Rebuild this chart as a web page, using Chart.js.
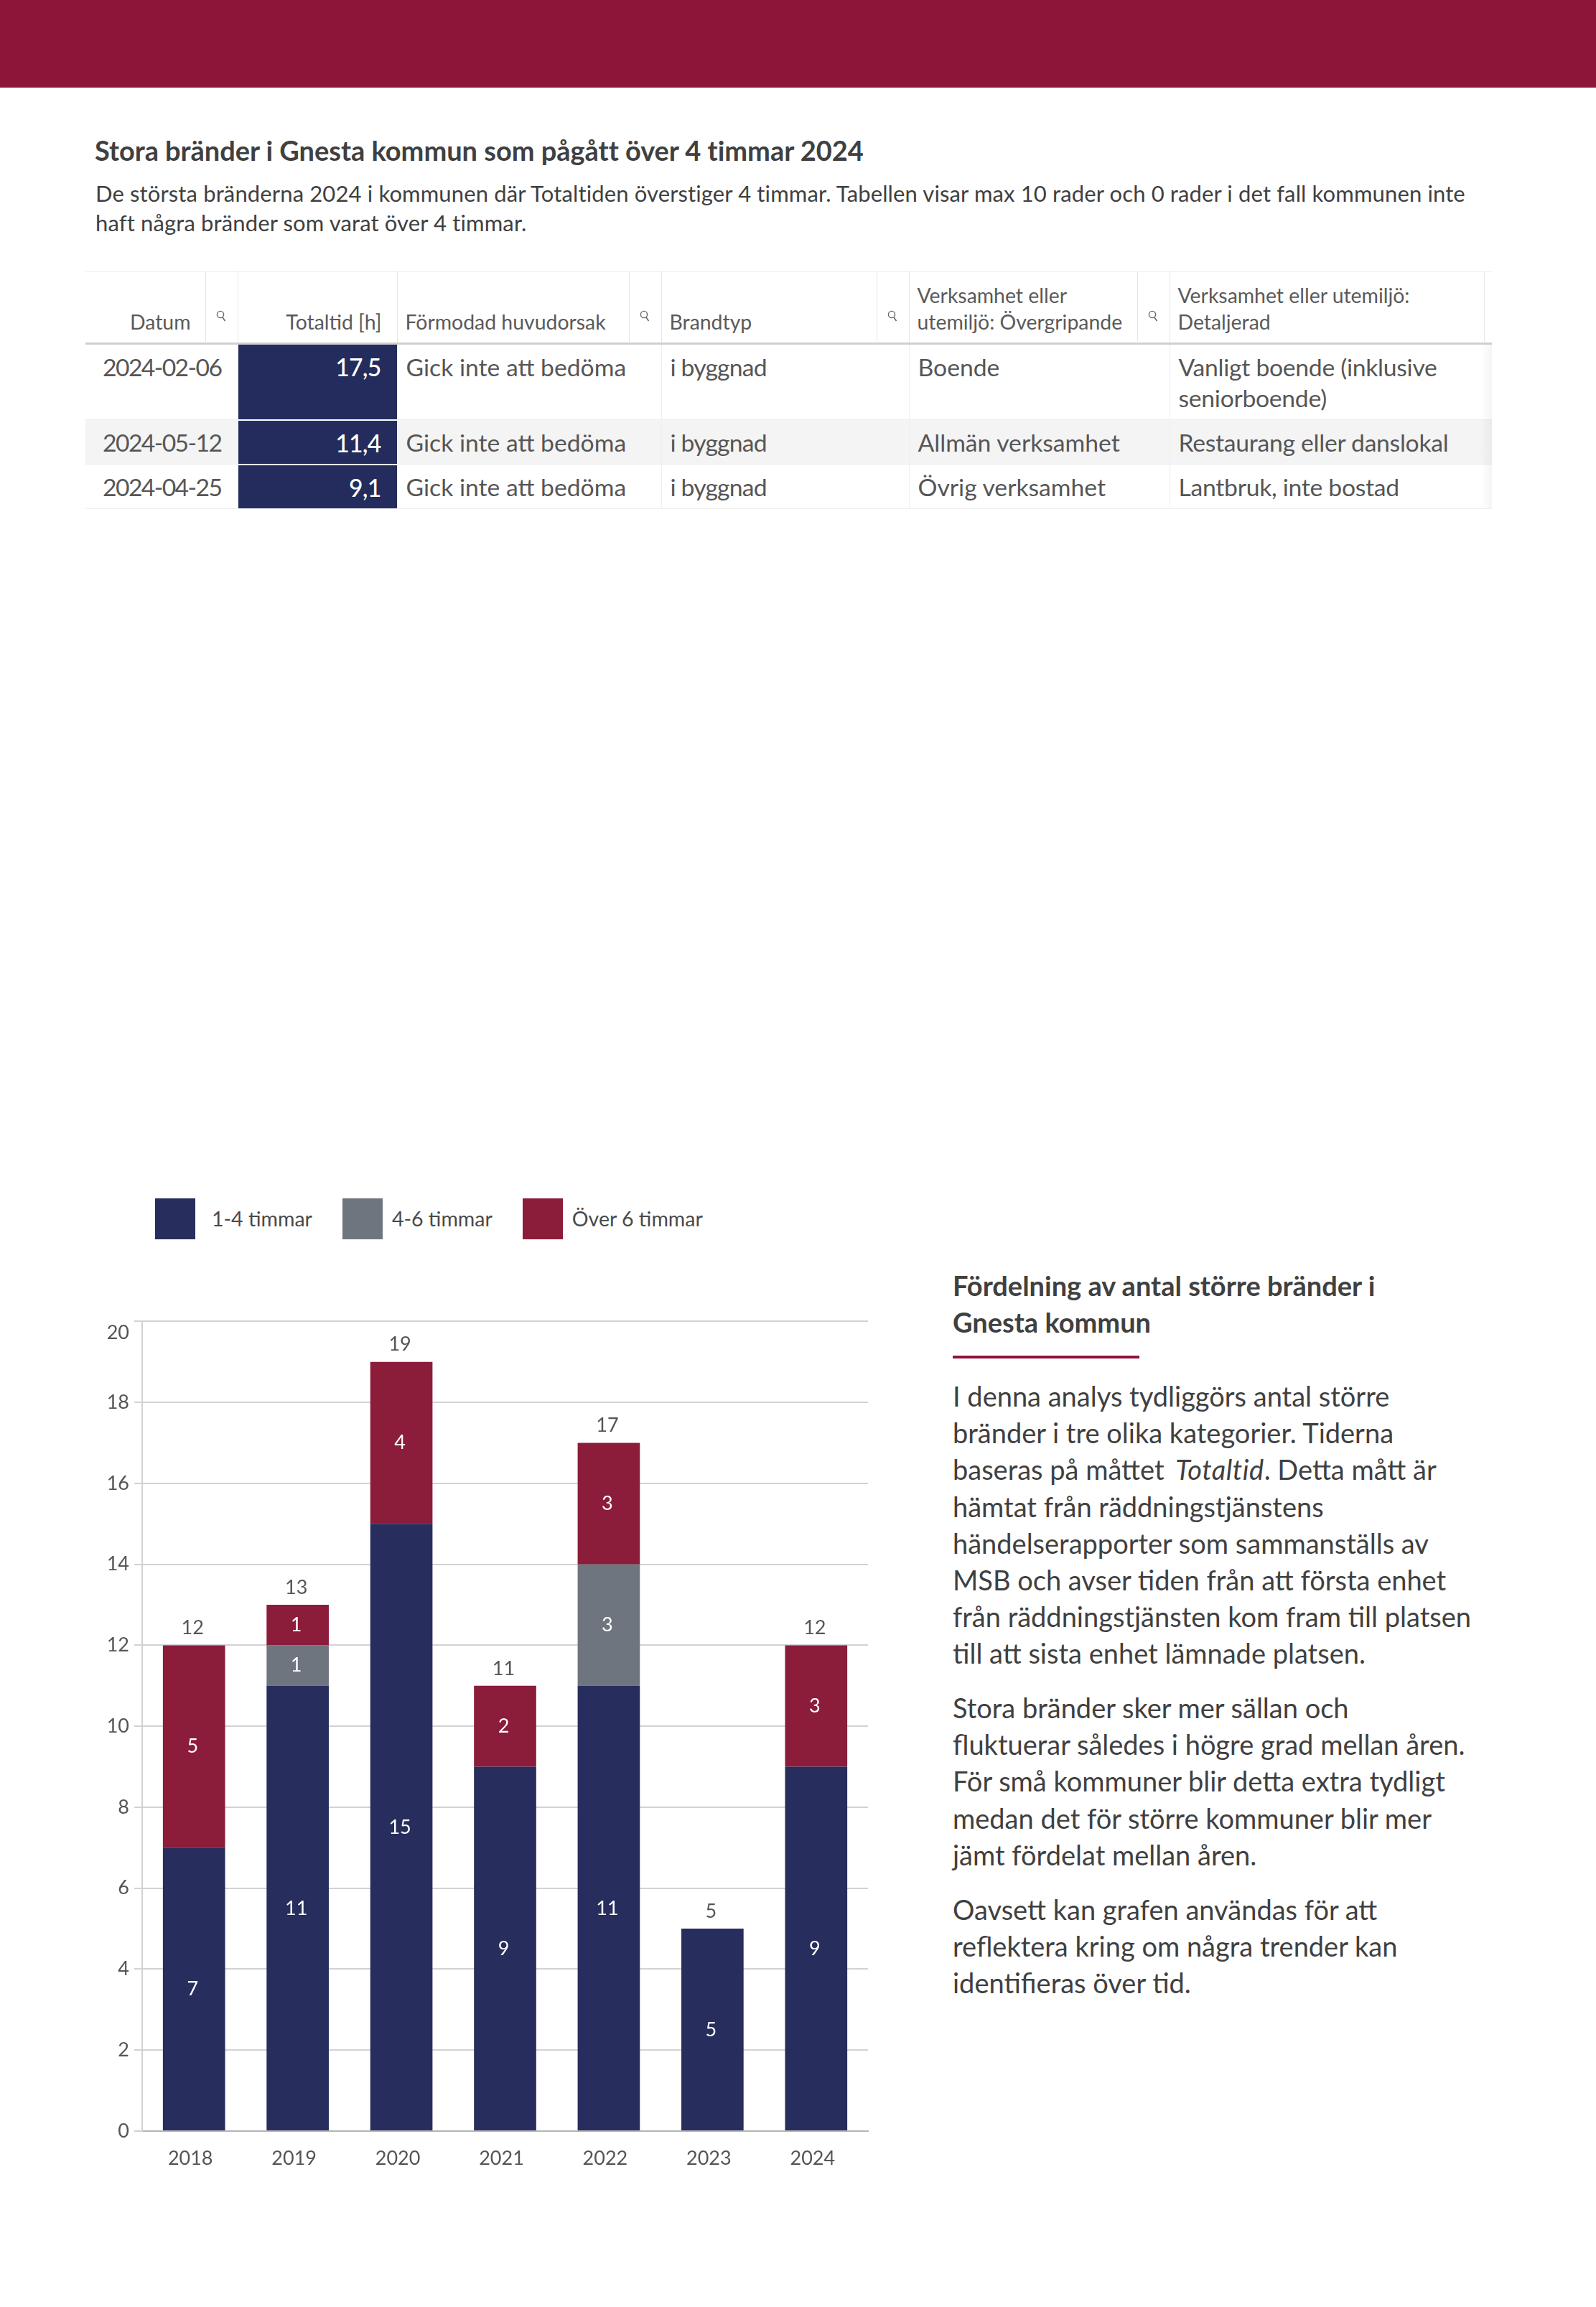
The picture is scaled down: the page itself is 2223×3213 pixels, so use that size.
<!DOCTYPE html>
<html lang="sv">
<head>
<meta charset="UTF-8">
<title>Stora bränder i Gnesta kommun</title>
<script src="https://cdn.jsdelivr.net/npm/chart.js"></script>
<style>
  html, body { margin: 0; padding: 0; background: #fff; }
  body { position: relative; width: 2223px; height: 3213px; overflow: hidden; font-family: Lato, sans-serif; color: #404040; }
  .band { position: absolute; left: 0; top: 0; width: 2223px; height: 122px; background: #8c1539; }
  .txt { position: absolute; white-space: nowrap; margin: 0; }
  #title { left: 132px; top: 184px; font-size: 38px; line-height: 50px; font-weight: 700; letter-spacing: -.03px; }
  #desc { left: 133px; top: 249px; font-size: 31px; line-height: 41px; font-weight: 400; letter-spacing: .13px; }

  table { position: absolute; left: 119px; top: 378px; width: 1959px; border-collapse: collapse; table-layout: fixed; color: #565656; }
  th { height: 100px; padding: 0 0 10px 11px; box-sizing: border-box; font-size: 28.4px; line-height: 37px; font-weight: 400; text-align: left; vertical-align: bottom; position: relative; border-top: 1px solid #eee; border-bottom: 3px solid #cfcfcf; border-right: 1px solid #e6e6e6; color: #5a5a5a; white-space: nowrap; }
  th:last-child { border-right: none; }
  td { padding: 10px 11px 0 12px; box-sizing: border-box; font-size: 33.7px; line-height: 43px; vertical-align: top; border-right: 1px solid #efefef; border-bottom: 1px solid #eee; white-space: nowrap; }
  td:last-child { border-right: none; letter-spacing: -.28px; }
  td:nth-child(4) { letter-spacing: -.8px; }
  tr.r0 td { height: 106px; }
  tr.r1 td, tr.r2 td { height: 62px; }
  tr.r1 td { background: #f4f4f4; }
  td.dat { padding-left: 24px; letter-spacing: -1.6px; }
  th.num { text-align: right; padding-right: 21px; }
  td.val { background: #232c5c !important; color: #fff; text-align: right; padding-right: 22px; border-bottom: 2px solid #fff; font-weight: 500; letter-spacing: -.8px; }
  th .sok { position: absolute; top: 0; right: 0; width: 44px; height: 97px; border-left: 1px solid #e6e6e6; }
  th .sok svg { position: absolute; left: 14px; top: 52px; }
  .kant { position: absolute; left: 2067px; top: 379px; width: 1px; height: 97px; background: #e6e6e6; }
  .fade { position: absolute; left: 2062px; top: 480px; width: 16px; height: 228px; background: linear-gradient(to right, rgba(0,0,0,0), rgba(0,0,0,.04)); }

  #legend { position: absolute; left: 216px; top: 1669px; display: flex; font-size: 28.5px; line-height: 57px; color: #4a4a4a; }
  #legend .item { display: flex; margin-right: 42px; }
  #legend i { display: block; width: 56px; height: 57px; margin-right: 13px; }
  #legend .item:first-child i { margin-right: 23px; }
  #chartWrap { position: absolute; left: 101px; top: 1801px; }

  #h2 { left: 1327px; top: 1765px; font-size: 38px; line-height: 51px; font-weight: 700; }
  .rule { position: absolute; left: 1327px; top: 1888px; width: 260px; height: 4px; background: #8c1539; }
  .para { left: 1327px; font-size: 38px; line-height: 51.2px; }
  .para em { margin-left: 6px; letter-spacing: .5px; }
</style>
</head>
<body>
<div class="band"></div>
<h1 class="txt" id="title">Stora bränder i Gnesta kommun som pågått över 4 timmar 2024</h1>
<p class="txt" id="desc">De största bränderna 2024 i kommunen där Totaltiden överstiger 4 timmar. Tabellen visar max 10 rader och 0 rader i det fall kommunen inte<br>haft några bränder som varat över 4 timmar.</p>

<table id="brander"></table>
<div class="kant"></div>
<div class="fade"></div>

<div id="legend"></div>
<div id="chartWrap"><canvas id="myChart" width="1160" height="1260"></canvas></div>

<h2 class="txt" id="h2">Fördelning av antal större bränder i<br>Gnesta kommun</h2>
<div class="rule"></div>
<p class="txt para" style="top:1919px">I denna analys tydliggörs antal större<br>bränder i tre olika kategorier. Tiderna<br>baseras på måttet <em>Totaltid</em>. Detta mått är<br>hämtat från räddningstjänstens<br>händelserapporter som sammanställs av<br>MSB och avser tiden från att första enhet<br>från räddningstjänsten kom fram till platsen<br>till att sista enhet lämnade platsen.</p>
<p class="txt para" style="top:2353px">Stora bränder sker mer sällan och<br>fluktuerar således i högre grad mellan åren.<br>För små kommuner blir detta extra tydligt<br>medan det för större kommuner blir mer<br>jämt fördelat mellan åren.</p>
<p class="txt para" style="top:2634px">Oavsett kan grafen användas för att<br>reflektera kring om några trender kan<br>identifieras över tid.</p>

<script>
// Tabellen
const kolumner = ['Datum', 'Totaltid [h]', 'Förmodad huvudorsak', 'Brandtyp', 'Verksamhet eller<br>utemiljö: Övergripande', 'Verksamhet eller utemiljö:<br>Detaljerad'];
const kolumnBredd = [212, 222, 368, 345, 363, 449];
const harSok = [true, false, true, true, true, false];
const datum = ['2024-02-06', '2024-05-12', '2024-04-25'];
const totaltid = ['17,5', '11,4', '9,1'];
const huvudorsak = ['Gick inte att bedöma', 'Gick inte att bedöma', 'Gick inte att bedöma'];
const brandtyp = ['i byggnad', 'i byggnad', 'i byggnad'];
const overgripande = ['Boende', 'Allmän verksamhet', 'Övrig verksamhet'];
const detaljerad = ['Vanligt boende (inklusive<br>seniorboende)', 'Restaurang eller danslokal', 'Lantbruk, inte bostad'];

// Diagrammet
const ar = ['2018', '2019', '2020', '2021', '2022', '2023', '2024'];
const timmar1till4 = [7, 11, 15, 9, 11, 5, 9];
const timmar4till6 = [0, 1, 0, 0, 3, 0, 0];
const over6timmar = [5, 1, 4, 2, 3, 0, 3];
const totalt = [12, 13, 19, 11, 17, 5, 12];

const lupp = '<svg width="14" height="18" viewBox="0 0 14 18"><circle cx="6" cy="7" r="4.6" fill="none" stroke="#666" stroke-width="1.4"/><line x1="9" y1="11" x2="12.5" y2="16" stroke="#666" stroke-width="1.6"/></svg>';

let html = '<colgroup>' + kolumnBredd.map(b => `<col style="width:${b}px">`).join('') + '</colgroup><tr>';
kolumner.forEach((k, i) => {
  const num = i < 2 ? ' class="num"' : '';
  const pad = i === 0 ? ' style="padding-right:65px"' : '';
  const sok = harSok[i] ? `<span class="sok">${lupp}</span>` : '';
  html += `<th${num}${pad}>${k}${sok}</th>`;
});
html += '</tr>';
datum.forEach((d, i) => {
  html += `<tr class="r${i}"><td class="dat">${d}</td><td class="val">${totaltid[i]}</td><td>${huvudorsak[i]}</td><td>${brandtyp[i]}</td><td>${overgripande[i]}</td><td>${detaljerad[i]}</td></tr>`;
});
document.getElementById('brander').innerHTML = html;

// Skriver ut värden i staplarna och totalen ovanför
const stapelEtiketter = {
  id: 'stapelEtiketter',
  afterDatasetsDraw(chart) {
    const ctx = chart.ctx;
    ctx.save();
    ctx.font = '27px Lato';
    ctx.textAlign = 'center';
    ctx.textBaseline = 'middle';
    chart.data.datasets.forEach((ds, d) => {
      chart.getDatasetMeta(d).data.forEach((bar, i) => {
        if (!ds.data[i]) return;
        ctx.fillStyle = '#fff';
        ctx.fillText(ds.data[i], bar.x - 2, chart.scales.y.getPixelForValue(stackBase(chart, d, i) + ds.data[i] / 2));
      });
    });
    ctx.fillStyle = '#555';
    totalt.forEach((t, i) => {
      ctx.fillText(t, chart.scales.x.getPixelForValue(i) - 2, chart.scales.y.getPixelForValue(t) - 24);
    });
    ctx.restore();
  }
};

function stackBase(chart, d, i) {
  let bas = 0;
  for (let k = 0; k < d; k++) bas += chart.data.datasets[k].data[i] || 0;
  return bas;
}

const myChart = new Chart(document.getElementById('myChart'), {
  type: 'bar',
  data: {
    labels: ar,
    datasets: [
      { label: '1-4 timmar', data: timmar1till4, backgroundColor: '#272d5c' },
      { label: '4-6 timmar', data: timmar4till6, backgroundColor: '#6e757f' },
      { label: 'Över 6 timmar', data: over6timmar, backgroundColor: '#8b1c3a' }
    ]
  },
  options: {
    responsive: false,
    animation: false,
    devicePixelRatio: 1,
    barPercentage: 0.6,
    categoryPercentage: 1,
    layout: { padding: { top: 37, right: 52, bottom: 0, left: 0 } },
    plugins: { legend: { display: false }, tooltip: { enabled: false } },
    scales: {
      x: {
        stacked: true,
        afterFit(axis) { axis.height = 93; },
        grid: { display: false },
        border: { color: '#b4b4b8', width: 2 },
        ticks: { color: '#555', font: { family: 'Lato', size: 27 }, padding: 14, labelOffset: -5, maxRotation: 0 }
      },
      y: {
        stacked: true,
        min: 0,
        max: 20,
        afterFit(axis) { axis.width = 97; },
        grid: { color: '#d2d2d6', lineWidth: 2, tickLength: 11 },
        border: { color: '#d2d2d6', width: 2 },
        ticks: {
          stepSize: 2,
          color: '#555',
          padding: 7,
          font: { family: 'Lato', size: 27 },
          // översta etiketten ligger under linjen
          callback: v => (v === 20 ? ['', '20'] : String(v))
        }
      }
    }
  },
  plugins: [stapelEtiketter]
});

document.getElementById('legend').innerHTML = myChart.data.datasets
  .map(ds => `<div class="item"><i style="background:${ds.backgroundColor}"></i>${ds.label}</div>`).join('');
</script>
</body>
</html>
